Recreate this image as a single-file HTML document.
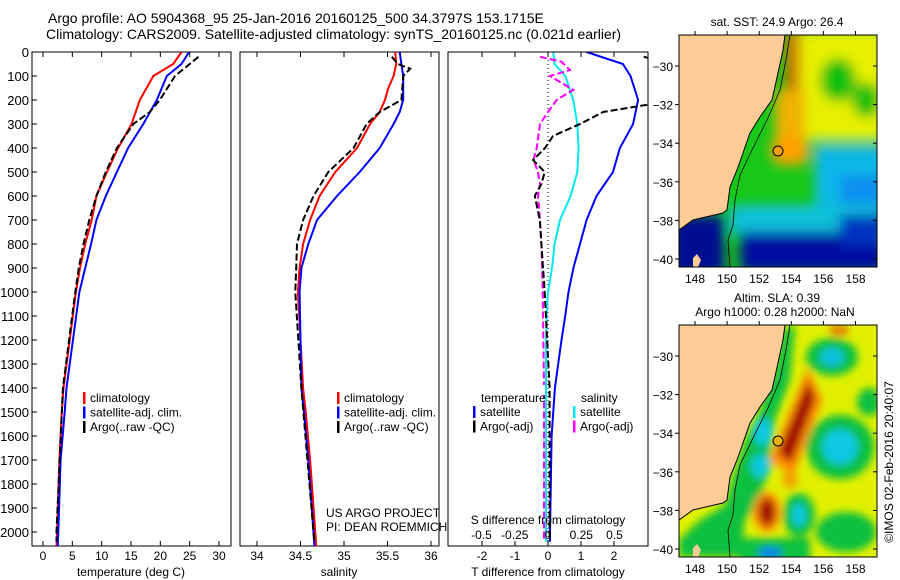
<!DOCTYPE html>
<html><head><meta charset="utf-8">
<style>
html,body{margin:0;padding:0;background:#fff;}
svg{display:block;font-family:"Liberation Sans",sans-serif;}
text{fill:#000;}
</style></head>
<body>
<svg id="fig" width="900" height="580" viewBox="0 0 900 580">
<defs>
<filter id="b4" x="-50%" y="-50%" width="200%" height="200%"><feGaussianBlur stdDeviation="4"/></filter>
<filter id="b6" x="-50%" y="-50%" width="200%" height="200%"><feGaussianBlur stdDeviation="6"/></filter>
<clipPath id="cm1"><rect x="679" y="35" width="198" height="232"/></clipPath>
<clipPath id="cm2"><rect x="679" y="325" width="198" height="232"/></clipPath>
<clipPath id="cp1"><rect x="32" y="52" width="199" height="494"/></clipPath>
<clipPath id="cp2"><rect x="240" y="52" width="199" height="494"/></clipPath>
<clipPath id="cp3"><rect x="448" y="52" width="200" height="494"/></clipPath>
</defs>
<g font-size="14">
<text x="48" y="23">Argo profile: AO 5904368_95 25-Jan-2016 20160125_500 34.3797S 153.1715E</text>
<text x="46" y="39">Climatology: CARS2009. Satellite-adjusted climatology: synTS_20160125.nc (0.021d earlier)</text>
</g>
<g id="p1"></g>
<g id="p2"></g>
<g id="p3"></g>

<!-- SST map -->
<g>
<text x="777" y="26" font-size="12" text-anchor="middle">sat. SST: 24.9 Argo: 26.4</text>
<g clip-path="url(#cm1)">
<rect x="679" y="35" width="198" height="232" fill="#18c818"/>
<g filter="url(#b6)">
<rect x="790" y="30" width="95" height="110" fill="#e8f000"/>
<ellipse cx="838" cy="80" rx="18" ry="22" fill="#10c010"/>
<ellipse cx="866" cy="100" rx="14" ry="18" fill="#10c010"/>
<rect x="785" y="30" width="15" height="60" fill="#d07000"/>
<rect x="775" y="90" width="30" height="75" fill="#f0b000"/>
<ellipse cx="790" cy="150" rx="20" ry="14" fill="#ffa000"/>
<rect x="815" y="145" width="70" height="85" fill="#10b8e8"/>
<rect x="840" y="175" width="45" height="40" fill="#1090f0"/>
<rect x="730" y="205" width="150" height="30" fill="#10c0d8"/>
<rect x="740" y="232" width="145" height="40" fill="#0010a0"/>
<rect x="840" y="215" width="45" height="30" fill="#0030c0"/>
<rect x="670" y="215" width="55" height="60" fill="#000c90"/>
</g>
</g>
<g clip-path="url(#cm1)">
<path d="M679,35 L785,35 L783,50 L778,73 L772,100 L760,117 L750,133 L743,153 L737,170 L730,187 L727,210 L723,213 L693,220 L679,230 Z" fill="#fccb96" stroke="#000" stroke-width="1"/>
<path d="M790,35 L786,60 L780,90 L768,118 L752,150 L740,175 L735,200 L733,225 L728,240 L730,267" fill="none" stroke="#000" stroke-width="0.8"/>
<path d="M693,258 l4,-4 l4,6 l-3,7 l-5,0z" fill="#fccb96"/>
</g>
<rect x="679" y="35" width="198" height="232" fill="none" stroke="#000" stroke-width="1"/>
<circle cx="778" cy="151" r="5" fill="#f0a000" stroke="#000" stroke-width="1"/>
</g>

<!-- SLA map -->
<g>
<text x="777" y="302" font-size="12" text-anchor="middle">Altim. SLA: 0.39</text>
<text x="775" y="316" font-size="12" text-anchor="middle">Argo h1000: 0.28 h2000: NaN</text>
<g clip-path="url(#cm2)">
<rect x="679" y="325" width="198" height="232" fill="#e0f000"/>
<g filter="url(#b4)">
<path d="M679,540 L700,520 L725,505 L735,470 L745,440 L760,410 L775,370 L783,330 L795,325 L790,380 L775,420 L768,470 L760,500 L745,520 L740,557 L679,557Z" fill="#10c040"/>
<ellipse cx="832" cy="357" rx="26" ry="19" fill="#10c040"/>
<ellipse cx="832" cy="357" rx="12" ry="9" fill="#10c0e0"/>
<ellipse cx="869" cy="402" rx="12" ry="14" fill="#10c040"/>
<ellipse cx="840" cy="447" rx="34" ry="32" fill="#10c040"/>
<ellipse cx="840" cy="447" rx="18" ry="18" fill="#10c8e0"/>
<ellipse cx="763" cy="432" rx="10" ry="14" fill="#10c8e0"/>
<ellipse cx="761" cy="466" rx="10" ry="12" fill="#10c8e0"/>
<ellipse cx="799" cy="515" rx="16" ry="22" fill="#10c040"/>
<ellipse cx="799" cy="515" rx="7" ry="12" fill="#10c8e0"/>
<ellipse cx="846" cy="532" rx="30" ry="20" fill="#10c040"/>
<rect x="740" y="538" width="70" height="25" fill="#10c040"/>
<ellipse cx="770" cy="553" rx="12" ry="6" fill="#1080f0"/>
<path d="M808,385 L815,400 L790,465 L778,458 Z" fill="#ff8c00" stroke="#ff8c00" stroke-width="14"/>
<path d="M808,388 L812,398 L790,458 L782,452 Z" fill="#a00000" stroke="#a00000" stroke-width="6"/>
<ellipse cx="767" cy="512" rx="14" ry="20" fill="#ff8c00"/>
<ellipse cx="767" cy="512" rx="8" ry="14" fill="#a00000"/>
<ellipse cx="839" cy="330" rx="10" ry="6" fill="#e08000"/>
<ellipse cx="790" cy="480" rx="8" ry="8" fill="#f0a000"/>
</g>
</g>
<g clip-path="url(#cm2)">
<path d="M679,325 L785,325 L783,340 L778,363 L772,390 L760,407 L750,423 L743,443 L737,460 L730,477 L727,500 L723,503 L693,510 L679,520 Z" fill="#fccb96" stroke="#000" stroke-width="1"/>
<path d="M790,325 L786,350 L780,380 L768,408 L752,440 L740,465 L735,490 L733,515 L728,530 L730,557" fill="none" stroke="#000" stroke-width="0.8"/>
<path d="M693,548 l4,-4 l4,6 l-3,7 l-5,0z" fill="#fccb96"/>
</g>
<rect x="679" y="325" width="198" height="232" fill="none" stroke="#000" stroke-width="1"/>
<circle cx="778" cy="441" r="5" fill="#f0b000" stroke="#000" stroke-width="1"/>
</g>
<g id="maxes"></g>
<text transform="translate(893,462) rotate(-90)" font-size="12" text-anchor="middle">©IMOS 02-Feb-2016 20:40:07</text>
</svg>
<script>
// ---- data ----
const tClimDepth=[0,50,100,200,300,400,500,600,700,800,900,1000,1400,1500,1700,2000,2060];
const tClim=[23.6,22.2,18.8,16.5,15.1,12.8,10.9,9.1,8.3,7.2,6.3,5.6,3.5,3.2,2.8,2.4,2.3];
const tSat=[24.9,23.6,21.1,19.4,17.1,14.5,12.6,10.7,9.1,8.2,7.2,6.2,4.0,3.7,3.0,2.6,2.5];
const tArgoDepth=[20,50,100,200,250,300,350,400,500,600,700,800,900,1000,1400,2000,2040];
const tArgo=[26.5,25.0,22.5,19.9,18.2,15.4,14.0,12.6,10.7,9.1,7.9,6.9,6.1,5.5,3.4,2.3,2.3];
const sDepth=[0,50,100,150,200,250,300,400,500,600,700,800,900,1000,1400,1500,1700,2000,2060];
const sClim=[35.59,35.60,35.57,35.51,35.47,35.41,35.30,35.15,34.90,34.72,34.61,34.53,34.49,34.47,34.53,34.56,34.61,34.67,34.68];
const sSat=[35.64,35.66,35.68,35.68,35.68,35.64,35.57,35.41,35.18,34.92,34.69,34.59,34.51,34.49,34.51,34.54,34.59,34.65,34.66];
const sArgoDepth=[20,50,70,100,200,250,300,400,500,600,700,800,900,1000,1400,2000,2040];
const sArgo=[35.55,35.62,35.76,35.68,35.66,35.41,35.26,35.11,34.82,34.65,34.53,34.46,34.45,34.44,34.51,34.65,34.66];
const dDepth=[0,50,100,200,300,400,500,600,700,800,900,1000,1100,1200,1400,1600,2000,2040];
const dTSat=[1.17,2.27,2.5,2.73,2.58,2.18,1.97,1.47,1.17,0.97,0.77,0.62,0.52,0.41,0.21,0.11,0.06,0.06];
const dSSat=[0.04,0.05,0.13,0.19,0.22,0.23,0.22,0.17,0.09,0.05,0.03,0.0,-0.01,-0.015,-0.015,-0.015,-0.015,-0.015];
const dTArgoDepth=[20,40,100,180,220,250,300,350,400,450,500,550,600,700,800,1000,1400,2000,2040];
const dTArgo=[2.9,3.5,3.8,3.6,3.0,1.67,0.97,0.15,-0.09,-0.45,-0.1,-0.2,-0.4,-0.25,-0.2,-0.1,0.05,0.05,0.05];
const dSArgoDepth=[20,40,75,100,158,200,250,300,400,450,500,550,600,700,800,1000,1400,2000,2040];
const dSArgo=[-0.06,0.1,0.165,0.015,0.19,0.065,0,-0.06,-0.085,-0.11,-0.075,-0.06,-0.075,-0.06,-0.05,-0.04,-0.03,-0.03,-0.03];
const depthTicks=[0,100,200,300,400,500,600,700,800,900,1000,1100,1200,1300,1400,1500,1600,1700,1800,1900,2000];
const tTicks=[0,5,10,15,20,25,30];
const sTicks=[34,34.5,35,35.5,36];
const dTTicks=[-2,-1,0,1,2];
const dSTicks=[-0.5,-0.25,0,0.25,0.5];
const lonTicks=[148,150,152,154,156,158];
const latTicks=[-30,-32,-34,-36,-38,-40];

// ---- axes ----
const NS='http://www.w3.org/2000/svg';
const TOP=52,BOT=546;
const yD=d=>TOP+d*0.24;
const xT=t=>43+t*5.867;
const xS=s=>257+(s-34)*87;
const xDT=t=>548+t*33;
const xDS=s=>548+s*133;
const mx=lon=>695+(lon-148)*16.05;
const my1=lat=>66+(-30-lat)*19.3;
const my2=lat=>356+(-30-lat)*19.3;

function el(tag,attrs,parent){const e=document.createElementNS(NS,tag);for(const k in attrs)e.setAttribute(k,attrs[k]);parent.appendChild(e);return e;}
function txt(s,x,y,parent,anchor,size){const t=el('text',{x:x,y:y,'font-size':size||12,'text-anchor':anchor||'start'},parent);t.textContent=s;return t;}
function line(xs,ys,xf,depths,color,dash,parent,clip,name){
  let d='';for(let i=0;i<xs.length;i++){d+=(i?'L':'M')+xf(xs[i]).toFixed(1)+','+yD(depths[i]).toFixed(1);}
  const p=el('path',{d:d,fill:'none',stroke:color,'stroke-width':2,'clip-path':'url(#'+clip+')'},parent);
  if(dash)p.setAttribute('stroke-dasharray',dash);
  
  
  return p;
}
function frame(g,x0,x1,withY){
  const r=el('rect',{x:x0,y:TOP,width:x1-x0,height:BOT-TOP,fill:'none',stroke:'#000','stroke-width':1},g);
  
  
  if(withY){depthTicks.forEach(v=>{el('line',{x1:x0,x2:x0+5,y1:yD(v),y2:yD(v),stroke:'#000'},g);
    const t=txt(String(v),x0-3,yD(v)+5,g,'end',13);
    
    });}
}
function xticks(g,ticks,f,labY,fmt){
  ticks.forEach(v=>{el('line',{x1:f(v),x2:f(v),y1:BOT,y2:BOT-5,stroke:'#000'},g);el('line',{x1:f(v),x2:f(v),y1:TOP,y2:TOP+5,stroke:'#000'},g);
    const t=txt(fmt?fmt(v):String(v),f(v),labY,g,'middle',12);
    
    });
}
function legend(g,x,y,items){
  items.forEach((it,i)=>{el('rect',{x:x,y:y+i*14.5-10,width:2.5,height:12,fill:it[1]},g);
    const t=txt(it[0],x+7,y+i*14.5,g,'start',12);
    
    });
}
// panel 1
const p1=document.getElementById('p1');
frame(p1,32,231,true);
xticks(p1,tTicks,xT,560);
let t=txt('temperature (deg C)',131,576,p1,'middle',12);


line(tClim,tClimDepth,xT,tClimDepth,'#ff0000',null,p1,'cp1','climatology-line');
line(tSat,tClimDepth,xT,tClimDepth,'#0000ff',null,p1,'cp1','satellite-line');
line(tArgo,tArgoDepth,xT,tArgoDepth,'#000',"7,3",p1,'cp1','argo-line');
legend(p1,83,402,[['climatology','#ff0000'],['satellite-adj. clim.','#0000ff'],['Argo(..raw -QC)','#000']]);
// panel 2
const p2=document.getElementById('p2');
frame(p2,240,439,false);
xticks(p2,sTicks,xS,560);
t=txt('salinity',339,576,p2,'middle',12);


line(sClim,sDepth,xS,sDepth,'#ff0000',null,p2,'cp2','climatology-line');
line(sSat,sDepth,xS,sDepth,'#0000ff',null,p2,'cp2','satellite-line');
line(sArgo,sArgoDepth,xS,sArgoDepth,'#000',"7,3",p2,'cp2','argo-line');
legend(p2,337,402,[['climatology','#ff0000'],['satellite-adj. clim.','#0000ff'],['Argo(..raw -QC)','#000']]);
t=txt('US ARGO PROJECT',326,517,p2,'start',12);


t=txt('PI: DEAN ROEMMICH',326,531,p2,'start',12);


// panel 3
const p3=document.getElementById('p3');
el('line',{x1:548,x2:548,y1:TOP,y2:BOT,stroke:'#000','stroke-dasharray':'1,3'},p3);
line(dTSat,dDepth,xDT,dDepth,'#0000ff',null,p3,'cp3','t-satellite-diff-line');
line(dSSat,dDepth,xDS,dDepth,'#00e8f0',null,p3,'cp3','s-satellite-diff-line');
line(dSArgo,dSArgoDepth,xDS,dSArgoDepth,'#ff00ff',"7,3",p3,'cp3','s-argo-diff-line');
line(dTArgo,dTArgoDepth,xDT,dTArgoDepth,'#000',"7,3",p3,'cp3','t-argo-diff-line');
el('rect',{x:470,y:385,width:75,height:10,fill:'#fff'},p3);
frame(p3,448,648,false);
xticks(p3,dTTicks,xDT,560);
dSTicks.forEach(v=>{const tt=txt(String(v),xDS(v),539,p3,'middle',12);
  
  });
t=txt('S difference from climatology',548,524,p3,'middle',12);


t=txt('T difference from climatology',548,576,p3,'middle',12);


t=txt('temperature',481,402,p3,'start',12);


t=txt('salinity',581,402,p3,'start',12);


legend(p3,473,416,[['satellite','#0000ff'],['Argo(-adj)','#000']]);
legend(p3,573,416,[['satellite','#00e8f0'],['Argo(-adj)','#ff00ff']]);
// map axes
const ma=document.getElementById('maxes');
[[35,267,my1],[325,557,my2]].forEach(([top,bot,my])=>{
  lonTicks.forEach(v=>{el('line',{x1:mx(v),x2:mx(v),y1:top,y2:top-4,stroke:'#000'},ma);
    const tt=txt(String(v),mx(v),bot+16,ma,'middle',12);
    
    });
  latTicks.forEach(v=>{el('line',{x1:679,x2:675,y1:my(v),y2:my(v),stroke:'#000'},ma);
    el('line',{x1:877,x2:873,y1:my(v),y2:my(v),stroke:'#000'},ma);
    const tt=txt(String(v).replace('-','\u2212'),673,my(v)+5,ma,'end',12);
    
    });
});
</script>
</body></html>
